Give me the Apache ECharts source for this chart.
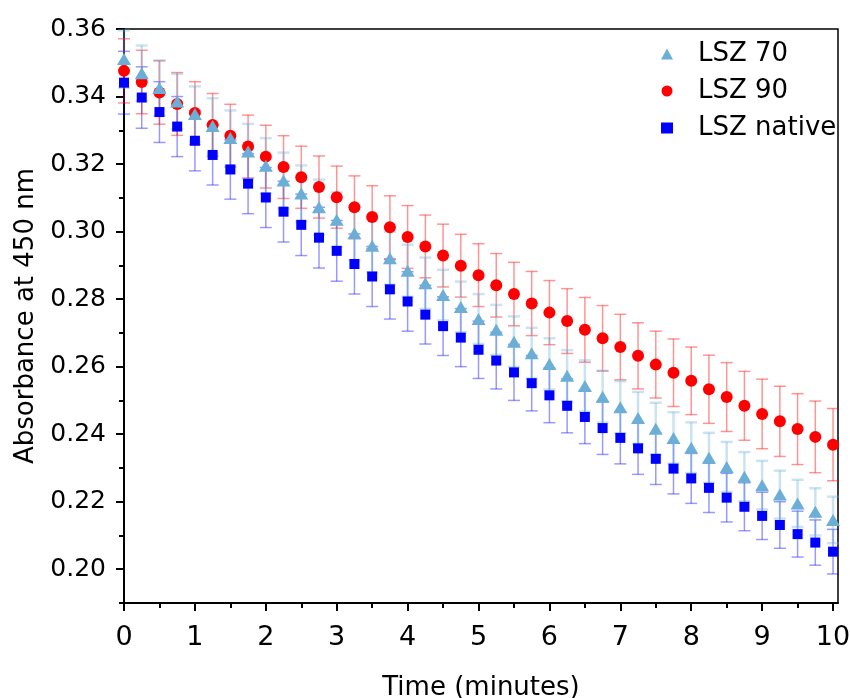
<!DOCTYPE html>
<html><head><meta charset="utf-8">
<script src="https://cdn.jsdelivr.net/npm/echarts@6/dist/echarts.min.js"></script>
<style>html,body{margin:0;padding:0;background:#fff}#c{width:850px;height:698px}</style>
</head><body><div id="c"></div>
<script>
const times = [0,0.25,0.5,0.75,1,1.25,1.5,1.75,2,2.25,2.5,2.75,3,3.25,3.5,3.75,4,4.25,4.5,4.75,5,5.25,5.5,5.75,6,6.25,6.5,6.75,7,7.25,7.5,7.75,8,8.25,8.5,8.75,9,9.25,9.5,9.75,10];
const lsz70 = [0.3511,0.3469,0.3425,0.3385,0.3348,0.3313,0.3277,0.3237,0.3195,0.3151,0.3113,0.3072,0.3035,0.2995,0.2958,0.2921,0.2884,0.2847,0.2812,0.2777,0.2741,0.2709,0.2674,0.2640,0.2608,0.2573,0.2543,0.2511,0.2480,0.2448,0.2416,0.2389,0.2360,0.2330,0.2303,0.2274,0.2249,0.2221,0.2195,0.2170,0.2146];
const lsz90 = [0.3476,0.3443,0.3412,0.3378,0.3351,0.3316,0.3284,0.3252,0.3222,0.3191,0.3161,0.3132,0.3102,0.3072,0.3043,0.3013,0.2984,0.2956,0.2929,0.2899,0.2871,0.2841,0.2815,0.2787,0.2760,0.2735,0.2709,0.2684,0.2658,0.2632,0.2606,0.2582,0.2558,0.2533,0.2510,0.2484,0.2460,0.2438,0.2415,0.2392,0.2369];
const lszNative = [0.3441,0.3397,0.3354,0.3311,0.3269,0.3227,0.3184,0.3142,0.3101,0.3059,0.3020,0.2982,0.2943,0.2904,0.2867,0.2829,0.2793,0.2754,0.2720,0.2686,0.2650,0.2618,0.2583,0.2551,0.2515,0.2484,0.2451,0.2418,0.2389,0.2358,0.2327,0.2298,0.2269,0.2241,0.2212,0.2185,0.2158,0.2131,0.2104,0.2079,0.2052];
const err70 = [0.0085,0.0082,0.0082,0.0082,0.0082,0.0082,0.0082,0.0082,0.0082,0.0083,0.0083,0.0082,0.0081,0.0080,0.0079,0.0078,0.0077,0.0076,0.0075,0.0075,0.0074,0.0074,0.0075,0.0075,0.0076,0.0076,0.0076,0.0077,0.0077,0.0077,0.0077,0.0076,0.0075,0.0074,0.0074,0.0073,0.0072,0.0071,0.0070,0.0070,0.0069];
const err90 = [0.0095,0.0094,0.0094,0.0093,0.0093,0.0093,0.0093,0.0093,0.0093,0.0093,0.0092,0.0092,0.0092,0.0093,0.0093,0.0093,0.0093,0.0093,0.0093,0.0093,0.0093,0.0094,0.0094,0.0095,0.0095,0.0096,0.0096,0.0097,0.0097,0.0098,0.0099,0.0100,0.0100,0.0101,0.0102,0.0102,0.0103,0.0104,0.0105,0.0106,0.0107];
const errNative = [0.0093,0.0091,0.0090,0.0089,0.0089,0.0089,0.0088,0.0089,0.0089,0.0090,0.0091,0.0090,0.0090,0.0089,0.0089,0.0088,0.0088,0.0087,0.0087,0.0086,0.0085,0.0084,0.0083,0.0082,0.0081,0.0080,0.0079,0.0078,0.0077,0.0077,0.0076,0.0075,0.0074,0.0073,0.0072,0.0071,0.0070,0.0069,0.0068,0.0067,0.0066];
const xTicks = [0,1,2,3,4,5,6,7,8,9,10];
const xMinorTicks = [0.5,1.5,2.5,3.5,4.5,5.5,6.5,7.5,8.5,9.5];
const yTicks = [0.20,0.22,0.24,0.26,0.28,0.30,0.32,0.34,0.36];
const yMinorTicks = [0.19,0.21,0.23,0.25,0.27,0.29,0.31,0.33,0.35];

const FONT = 'DejaVu Sans';
const chart = echarts.init(document.getElementById('c'), null, {renderer: 'canvas'});

function errSeries(name, vals, errs, color, width, cap, z) {
  return {
    type: 'custom', name: name + ' err', z: z, silent: true,
    data: times.map((t, i) => [t, vals[i], errs[i]]),
    renderItem: function (params, api) {
      const x = api.value(0), y = api.value(1), e = api.value(2);
      const top = api.coord([x, y + e]);
      const bot = api.coord([x, y - e]);
      const st = {stroke: color, lineWidth: width};
      return {type: 'group', children: [
        {type: 'line', shape: {x1: top[0], y1: top[1], x2: bot[0], y2: bot[1]}, style: st},
        {type: 'line', shape: {x1: top[0] - cap, y1: top[1], x2: top[0] + cap, y2: top[1]}, style: st},
        {type: 'line', shape: {x1: bot[0] - cap, y1: bot[1], x2: bot[0] + cap, y2: bot[1]}, style: st}
      ]};
    }
  };
}

chart.setOption({
  animation: false,
  grid: {left: 124, right: 12, top: 29, bottom: 95, containLabel: false, outerBoundsMode: 'none',
    show: true, borderColor: '#000', borderWidth: 1.5, backgroundColor: 'transparent'},
  legend: {
    data: [
      {name: 'LSZ 70', icon: 'triangle'},
      {name: 'LSZ 90', icon: 'circle'},
      {name: 'LSZ native', icon: 'rect'}
    ],
    orient: 'vertical', left: 656, top: 36, itemGap: 11,
    itemWidth: 12, itemHeight: 11,
    textStyle: {fontFamily: FONT, fontSize: 26, color: '#000', padding: [0, 0, 0, 20]}
  },
  xAxis: [
    {
      type: 'value', min: 0, max: 10.07, position: 'bottom',
      axisLine: {show: true, onZero: false, lineStyle: {color: '#000', width: 2}},
      axisTick: {show: true, customValues: xTicks, length: 8, lineStyle: {color: '#000', width: 2}},
      axisLabel: {show: true, customValues: xTicks, margin: 21, fontFamily: FONT, fontSize: 27, color: '#000'},
      splitLine: {show: false},
      name: 'Time (minutes)', nameLocation: 'middle', nameGap: 72,
      nameTextStyle: {fontFamily: FONT, fontSize: 26, color: '#000'}
    },
    {
      type: 'value', min: 0, max: 10.07, position: 'bottom',
      axisLine: {show: false, onZero: false},
      axisTick: {show: true, customValues: xMinorTicks, length: 5, lineStyle: {color: '#000', width: 2}},
      axisLabel: {show: false},
      splitLine: {show: false}
    }
  ],
  yAxis: [
    {
      type: 'value', min: 0.19, max: 0.36, position: 'left',
      axisLine: {show: true, onZero: false, lineStyle: {color: '#000', width: 2}},
      axisTick: {show: true, customValues: yTicks, length: 8, lineStyle: {color: '#000', width: 2}},
      axisLabel: {show: true, customValues: yTicks, margin: 18, fontFamily: FONT, fontSize: 25, color: '#000',
        formatter: v => v.toFixed(2)},
      splitLine: {show: false},
      name: 'Absorbance at 450 nm', nameLocation: 'middle', nameGap: 85,
      nameTextStyle: {fontFamily: FONT, fontSize: 26, color: '#000'}
    },
    {
      type: 'value', min: 0.19, max: 0.36, position: 'left',
      axisLine: {show: false, onZero: false},
      axisTick: {show: true, customValues: yMinorTicks, length: 5, lineStyle: {color: '#000', width: 2}},
      axisLabel: {show: false},
      splitLine: {show: false}
    }
  ],
  series: [
    errSeries('LSZ native', lszNative, errNative, 'rgba(0,0,255,0.4)', 1.5, 6, 2),
    errSeries('LSZ 90', lsz90, err90, 'rgba(255,0,0,0.42)', 1.5, 6, 2),
    errSeries('LSZ 70', lsz70, err70, 'rgba(107,174,214,0.35)', 2.5, 6, 2),
    {
      name: 'LSZ 90', type: 'scatter', z: 3, symbol: 'circle', symbolSize: 12,
      itemStyle: {color: '#ff0000', opacity: 1},
      data: times.map((t, i) => [t, lsz90[i]])
    },
    {
      name: 'LSZ 70', type: 'scatter', z: 4, symbol: 'triangle', symbolSize: [14, 12],
      itemStyle: {color: '#6baed6', opacity: 1},
      data: times.map((t, i) => [t, lsz70[i]])
    },
    {
      name: 'LSZ native', type: 'scatter', z: 5, symbol: 'rect', symbolSize: 10,
      itemStyle: {color: '#0000ff', opacity: 1},
      data: times.map((t, i) => [t, lszNative[i]])
    }
  ]
});
</script>
</body></html>
